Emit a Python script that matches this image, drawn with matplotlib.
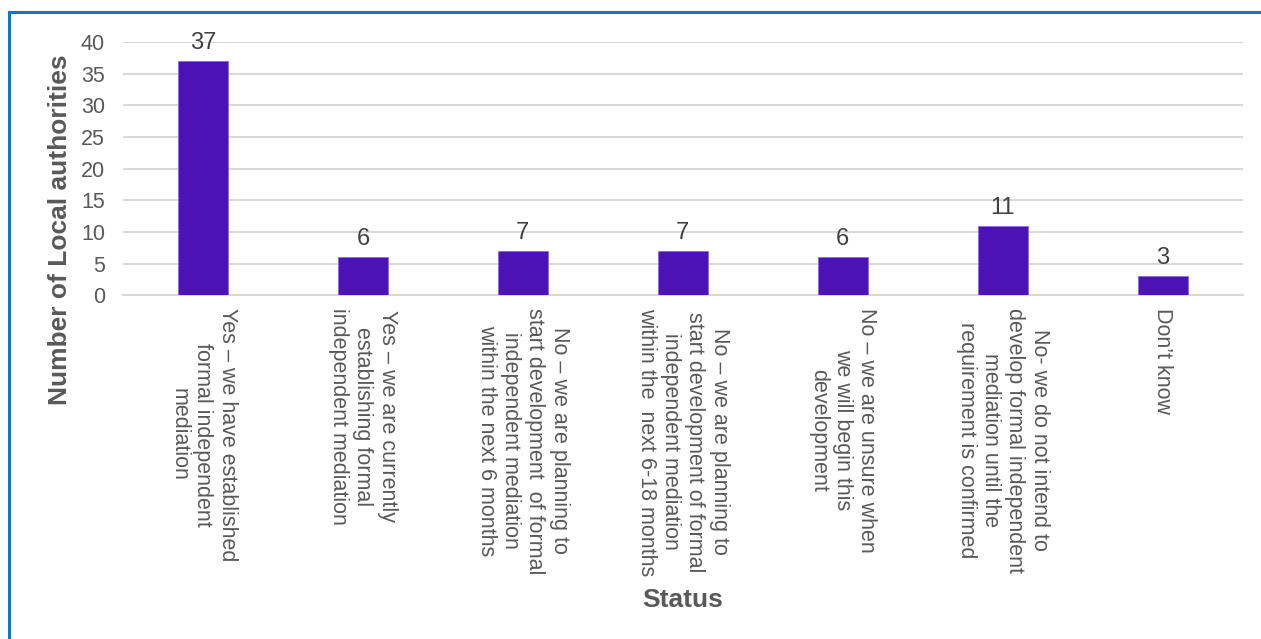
import matplotlib
matplotlib.use("Agg")
import matplotlib.pyplot as plt
from matplotlib.lines import Line2D

plt.rcParams['font.family'] = ['Liberation Sans', 'DejaVu Sans']

categories = [
    "Yes – we have established\nformal independent\nmediation",
    "Yes – we are currently\nestablishing formal\nindependent mediation",
    "No – we are planning to\nstart development  of formal\nindependent mediation\nwithin the next 6 months",
    "No – we are planning to\nstart development of formal\nindependent mediation\nwithin the  next 6-18 months",
    "No – we are unsure when\nwe will begin this\ndevelopment",
    "No- we do not intend to\ndevelop formal independent\nmediation until the\nrequirement is confirmed",
    "Don’t know",
]
counts = [37, 6, 7, 7, 6, 11, 3]
y_ticks = [0, 5, 10, 15, 20, 25, 30, 35, 40]

BAR = '#4C12B5'
GRID = '#D9D9D9'
TEXT = '#595959'

fig = plt.figure(figsize=(12.61, 6.39), dpi=100)
ax = fig.add_axes([0.0975, 0.538, 0.888, 0.396])

x = list(range(len(categories)))
ax.bar(x, counts, width=0.31, color=BAR, edgecolor='#8A6AE0', linewidth=0.6, zorder=3)

for xi, v in zip(x, counts):
    ax.annotate(str(v), (xi, v), xytext=(0, 5), textcoords='offset points',
                ha='center', va='bottom', fontsize=17, color='#404040')

ax.set_xlim(-0.5, len(categories) - 0.5)
ax.set_ylim(0, 40)
ax.set_yticks(y_ticks)
ax.yaxis.grid(True, color=GRID, linewidth=1.5, zorder=0)
ax.set_axisbelow(True)
for s in ['top', 'right', 'left']:
    ax.spines[s].set_visible(False)
ax.spines['bottom'].set_color(GRID)
ax.spines['bottom'].set_linewidth(1.5)
ax.tick_params(axis='both', length=0, colors=TEXT)
ax.tick_params(axis='y', pad=13, labelsize=15.5)
ax.tick_params(axis='x', pad=9)

ax.set_xticks(x)
ax.set_xticklabels(categories, rotation=-90, ha='center', va='top',
                   multialignment='center', fontsize=15.5, color=TEXT,
                   linespacing=1.2)

ax.set_ylabel('Number of Local authorities', fontsize=19, fontweight='bold', color=TEXT)
ax.yaxis.set_label_coords(-0.0455, 0.26)
fig.text(0.541, 0.061, 'Status', ha='center', va='center', fontsize=19,
         fontweight='bold', color=TEXT)

# frame accent along the top and left edges
fig.add_artist(Line2D([0.0075, 1.0], [0.9815, 0.9815], transform=fig.transFigure,
                      color='#1874C8', linewidth=2.2))
fig.add_artist(Line2D([0.0075, 0.0075], [0.0, 0.9815], transform=fig.transFigure,
                      color='#1874C8', linewidth=2.2))

fig.savefig('out.png', dpi=100, facecolor='white')
